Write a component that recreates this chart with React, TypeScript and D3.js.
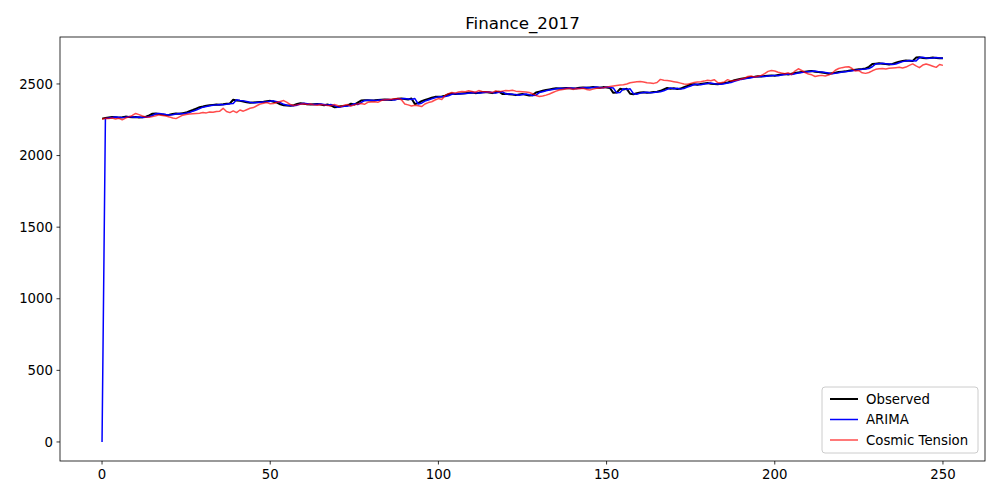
import * as d3 from "d3"

const observed = [
  2258,2262,2266,2270,2268,2265,2268,2272,2270,2268,
  2270,2266,2268,2272,2280,2292,2294,2290,2286,2284,
  2285,2290,2294,2292,2296,2300,2310,2318,2328,2338,
  2342,2348,2352,2354,2356,2355,2358,2362,2364,2390,
  2385,2382,2378,2372,2368,2370,2372,2374,2376,2380,
  2382,2376,2370,2358,2352,2350,2348,2352,2360,2366,
  2362,2358,2356,2358,2360,2356,2352,2356,2350,2338,
  2340,2344,2346,2350,2362,2356,2370,2384,2386,2386,
  2385,2386,2388,2390,2392,2390,2388,2394,2396,2398,
  2395,2392,2398,2360,2366,2380,2388,2396,2404,2410,
  2410,2412,2418,2428,2434,2430,2432,2434,2436,2438,
  2440,2436,2438,2442,2444,2440,2436,2442,2446,2430,
  2432,2428,2426,2422,2426,2430,2424,2420,2422,2440,
  2446,2452,2458,2462,2466,2470,2468,2470,2472,2470,
  2468,2470,2474,2476,2474,2476,2478,2476,2474,2478,
  2476,2472,2438,2440,2466,2462,2466,2432,2428,2436,
  2440,2442,2438,2440,2444,2446,2452,2462,2472,2466,
  2470,2464,2468,2478,2486,2496,2498,2494,2500,2504,
  2506,2502,2500,2498,2502,2506,2510,2518,2526,2532,
  2536,2540,2544,2548,2550,2554,2552,2556,2558,2560,
  2558,2562,2566,2570,2566,2572,2576,2580,2584,2586,
  2588,2590,2586,2584,2580,2576,2572,2574,2578,2584,
  2586,2588,2592,2596,2600,2602,2604,2608,2620,2640,
  2642,2644,2642,2640,2636,2640,2648,2656,2660,2664,
  2662,2660,2684,2686,2682,2680,2682,2684,2682,2680,
  2680,
]

const arima = [
  0,2258,2262,2266,2270,2268,2265,2268,2272,2270,
  2268,2270,2266,2268,2272,2280,2292,2294,2290,2286,
  2284,2285,2290,2294,2292,2296,2300,2310,2318,2328,
  2338,2342,2348,2352,2354,2356,2355,2358,2362,2364,
  2390,2385,2382,2378,2372,2368,2370,2372,2374,2376,
  2380,2382,2376,2370,2358,2352,2350,2348,2352,2360,
  2366,2362,2358,2356,2358,2360,2356,2352,2356,2350,
  2338,2340,2344,2346,2350,2362,2356,2370,2384,2386,
  2386,2385,2386,2388,2390,2392,2390,2388,2394,2396,
  2398,2395,2392,2398,2360,2366,2380,2388,2396,2404,
  2410,2410,2412,2418,2428,2434,2430,2432,2434,2436,
  2438,2440,2436,2438,2442,2444,2440,2436,2442,2446,
  2430,2432,2428,2426,2422,2426,2430,2424,2420,2422,
  2440,2446,2452,2458,2462,2466,2470,2468,2470,2472,
  2470,2468,2470,2474,2476,2474,2476,2478,2476,2474,
  2478,2476,2472,2438,2440,2466,2462,2466,2432,2428,
  2436,2440,2442,2438,2440,2444,2446,2452,2462,2472,
  2466,2470,2464,2468,2478,2486,2496,2498,2494,2500,
  2504,2506,2502,2500,2498,2502,2506,2510,2518,2526,
  2532,2536,2540,2544,2548,2550,2554,2552,2556,2558,
  2560,2558,2562,2566,2570,2566,2572,2576,2580,2584,
  2586,2588,2590,2586,2584,2580,2576,2572,2574,2578,
  2584,2586,2588,2592,2596,2600,2602,2604,2608,2620,
  2640,2642,2644,2642,2640,2636,2640,2648,2656,2660,
  2664,2662,2660,2684,2686,2682,2680,2682,2684,2682,
  2680,
]

const cosmic = [
  2255,2260,2258,2262,2256,2260,2250,2262,2270,2280,
  2294,2286,2276,2270,2268,2272,2278,2284,2280,2276,
  2270,2262,2258,2270,2282,2286,2290,2292,2294,2296,
  2300,2298,2304,2302,2308,2310,2330,2308,2300,2312,
  2300,2318,2310,2320,2330,2335,2348,2360,2366,2370,
  2362,2364,2372,2378,2384,2372,2356,2350,2354,2358,
  2362,2356,2360,2354,2352,2356,2354,2350,2348,2356,
  2350,2342,2352,2356,2346,2354,2360,2364,2358,2372,
  2374,2376,2372,2384,2390,2392,2394,2396,2398,2390,
  2360,2354,2346,2352,2348,2342,2360,2370,2376,2388,
  2398,2392,2420,2432,2440,2436,2444,2448,2446,2452,
  2448,2442,2454,2448,2446,2444,2440,2452,2446,2450,
  2454,2452,2456,2450,2448,2446,2444,2440,2432,2420,
  2412,2416,2422,2430,2440,2450,2458,2462,2466,2470,
  2462,2468,2466,2470,2462,2458,2464,2470,2472,2474,
  2478,2482,2486,2490,2492,2494,2500,2508,2512,2516,
  2518,2514,2508,2506,2504,2510,2532,2526,2524,2520,
  2516,2512,2506,2500,2498,2504,2510,2514,2516,2520,
  2526,2522,2530,2510,2508,2514,2530,2520,2524,2528,
  2534,2540,2552,2556,2548,2554,2560,2572,2588,2594,
  2590,2582,2576,2572,2578,2566,2590,2606,2594,2580,
  2570,2564,2552,2558,2560,2556,2562,2574,2596,2608,
  2614,2618,2620,2608,2590,2594,2578,2574,2580,2592,
  2602,2606,2608,2604,2610,2612,2614,2616,2612,2618,
  2630,2640,2626,2614,2632,2640,2632,2624,2616,2636,
  2630,
]

const xTicks = [0, 50, 100, 150, 200, 250]
const yTicks = [0, 500, 1000, 1500, 2000, 2500]

const series = [
  { name: "Observed", values: observed, color: "black", width: 2, opacity: 1 },
  { name: "ARIMA", values: arima, color: "blue", width: 1.5, opacity: 1 },
  { name: "Cosmic Tension", values: cosmic, color: "red", width: 1.5, opacity: 0.7 },
]

export default function App() {
  const left = 60, right = 985, top = 37, bottom = 461
  const x = d3.scaleLinear().domain([-12.5, 262.5]).range([left, right])
  const y = d3.scaleLinear().domain([-133, 2828]).range([bottom, top])
  const line = d3.line<number>().x((_, i) => x(i)).y((d) => y(d))
  const font = "DejaVu Sans, sans-serif"

  return (
    <svg width={1000} height={500} style={{ position: "absolute", left: 0, top: 0 }} fontFamily={font}>
      <rect width={1000} height={500} fill="white" />
      <text x={(left + right) / 2} y={29} textAnchor="middle" fontSize={16.7}>Finance_2017</text>
      {series.map((s) => (
        <path key={s.name} d={line(s.values) || ""} fill="none" stroke={s.color}
          strokeWidth={s.width} strokeOpacity={s.opacity} strokeLinejoin="round" />
      ))}
      <rect x={left} y={top} width={right - left} height={bottom - top} fill="none" stroke="black" strokeWidth={0.8} />
      {xTicks.map((t) => (
        <g key={t} transform={`translate(${x(t)},${bottom})`}>
          <line y2={3.5} stroke="black" strokeWidth={0.8} />
          <text y={18} textAnchor="middle" fontSize={13.3}>{t}</text>
        </g>
      ))}
      {yTicks.map((t) => (
        <g key={t} transform={`translate(${left},${y(t)})`}>
          <line x2={-3.5} stroke="black" strokeWidth={0.8} />
          <text x={-7} dy="0.35em" textAnchor="end" fontSize={13.3}>{t}</text>
        </g>
      ))}
      <g transform="translate(822,387)">
        <rect width={156} height={66} rx={3} fill="white" fillOpacity={0.8} stroke="#ccc" />
        {series.map((s, i) => (
          <g key={s.name} transform={`translate(0,${12 + i * 20.5})`}>
            <line x1={8} x2={36} stroke={s.color} strokeWidth={s.width} strokeOpacity={s.opacity} />
            <text x={44} dy="0.35em" fontSize={13.3}>{s.name}</text>
          </g>
        ))}
      </g>
    </svg>
  )
}
